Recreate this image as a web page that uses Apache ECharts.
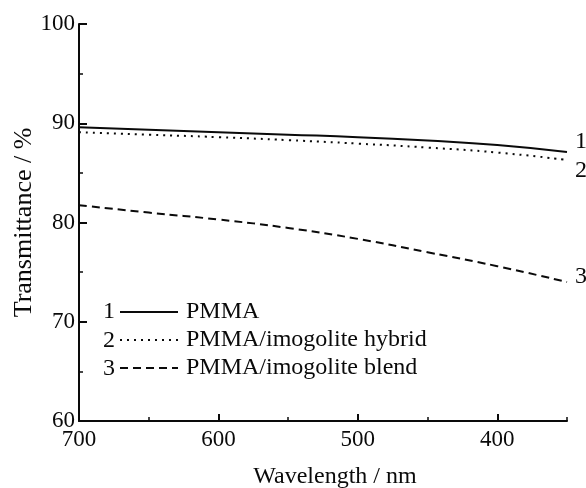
<!DOCTYPE html>
<html>
<head>
<meta charset="utf-8">
<script src="https://cdn.jsdelivr.net/npm/echarts@6/dist/echarts.min.js"></script>
<style>
  html, body { margin: 0; padding: 0; background: #fff; }
  #container { width: 586px; height: 488px; }
</style>
</head>
<body>
<div id="container"></div>
<script>
var wavelengths = [700, 650, 600, 550, 500, 450, 400, 350];
var pmma   = [89.6, 89.35, 89.1, 88.85, 88.6, 88.25, 87.8, 87.1];
var hybrid = [89.1, 88.85, 88.6, 88.3, 87.95, 87.55, 87.05, 86.3];
var blend  = [81.75, 81.0, 80.3, 79.45, 78.35, 77.0, 75.6, 74.0];
var seriesNames = ['PMMA', 'PMMA/imogolite hybrid', 'PMMA/imogolite blend'];
var seriesNums = ['1', '2', '3'];
var xLabelValues = [400, 500, 600, 700];

var font = "'Liberation Serif', 'Times New Roman', serif";
var ink = '#0a0a0a';

function pairs(ys) {
    return wavelengths.map(function (x, i) { return [x, ys[i]]; });
}

var myChart = echarts.init(document.getElementById('container'));

var lineStyles = [
    { color: ink, width: 2, type: 'solid' },
    { color: ink, width: 2, type: [2, 5] },
    { color: ink, width: 2, type: [8, 5] }
];
var endOffsets = [[16, -10], [16, 11], [16, -5]];

var option = {
    backgroundColor: '#fff',
    animation: false,
    grid: { left: 79, right: 19, top: 24, bottom: 67, outerBoundsMode: 'none' },
    xAxis: [{
        type: 'value', min: 350, max: 700, interval: 50, inverse: true,
        name: 'Wavelength / nm', nameLocation: 'middle', nameGap: 44, nameMoveOverlap: false,
        nameTextStyle: { fontFamily: font, fontSize: 24, color: ink, padding: [0, 0, 0, 24] },
        axisLine: { lineStyle: { color: ink, width: 2 } },
        axisTick: { inside: true, length: 7, customValues: xLabelValues, lineStyle: { color: ink, width: 2 } },
        axisLabel: { fontFamily: font, fontSize: 23, color: ink, margin: 7, customValues: xLabelValues },
        splitLine: { show: false }
    }, {
        // minor ticks every 50 nm
        type: 'value', position: 'bottom', offset: 0,
        min: 350, max: 700, interval: 50, inverse: true,
        axisLine: { show: false },
        axisTick: { inside: true, length: 4, lineStyle: { color: ink, width: 1.5 } },
        axisLabel: { show: false },
        splitLine: { show: false }
    }],
    yAxis: [{
        type: 'value', min: 60, max: 100, interval: 10,
        name: 'Transmittance / %', nameLocation: 'middle', nameGap: 42, nameMoveOverlap: false,
        nameTextStyle: { fontFamily: font, fontSize: 26, color: ink },
        axisLine: { show: true, lineStyle: { color: ink, width: 2 } },
        axisTick: { inside: true, length: 8, lineStyle: { color: ink, width: 2 } },
        minorTick: { show: true, splitNumber: 2, length: 4, lineStyle: { color: ink, width: 1.5 } },
        axisLabel: { fontFamily: font, fontSize: 23, color: ink, margin: 4 },
        splitLine: { show: false }
    }],
    legend: {
        orient: 'vertical', left: 114, top: 295,
        itemWidth: 58, itemHeight: 14, itemGap: 4,
        itemStyle: { opacity: 0 },
        textStyle: { fontFamily: font, fontSize: 24, color: ink, padding: [0, 0, 0, 3] },
        data: seriesNames.map(function (n) { return { name: n }; })
    },
    graphic: seriesNums.map(function (n, i) {
        return {
            type: 'text', x: 103, y: 312 + i * 28.5,
            style: { text: n, fontFamily: font, fontSize: 24, fill: ink, verticalAlign: 'middle' }
        };
    }),
    series: [pmma, hybrid, blend].map(function (ys, i) {
        return {
            name: seriesNames[i], type: 'line', data: pairs(ys),
            showSymbol: false, symbol: 'none', smooth: true,
            itemStyle: { color: ink },
            lineStyle: lineStyles[i],
            endLabel: {
                show: true, formatter: seriesNums[i], offset: endOffsets[i], align: 'left',
                fontFamily: font, fontSize: 24, color: ink
            }
        };
    })
};

myChart.setOption(option);
</script>
</body>
</html>
